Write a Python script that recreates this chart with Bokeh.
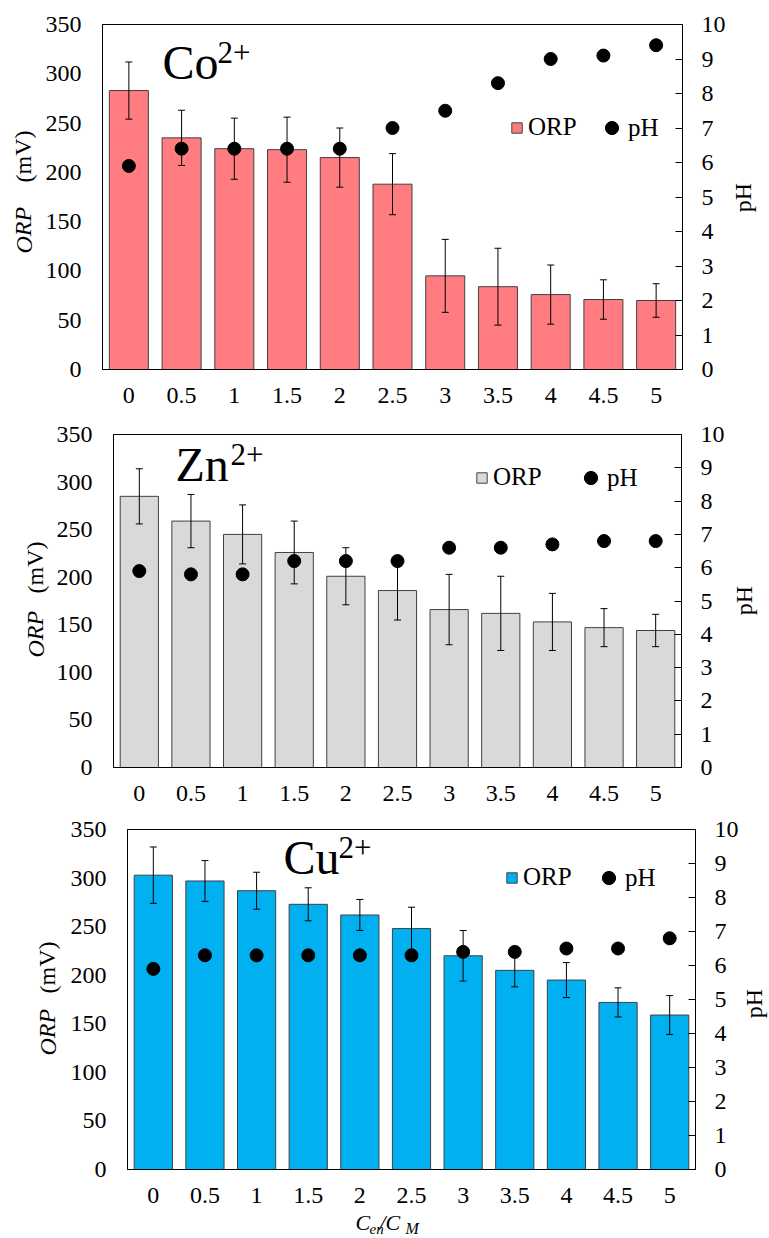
from bokeh.plotting import figure
from bokeh.models import (Range1d, LinearAxis, FactorRange, ColumnDataSource, Whisker,
                          TeeHead, Label, Legend, LegendItem, FixedTicker)
from bokeh.embed import file_html
from bokeh.resources import INLINE

# ---------------- data ----------------
categories = ["0", "0.5", "1", "1.5", "2", "2.5", "3", "3.5", "4", "4.5", "5"]
orp_ticks = [0, 50, 100, 150, 200, 250, 300, 350]
ph_ticks = [0, 1, 2, 3, 4, 5, 6, 7, 8, 9, 10]

co_orp = [283, 235, 224, 223, 215, 188, 95, 84, 76, 71, 70]
co_err = [29, 28, 31, 33, 30, 31, 37, 39, 30, 20, 17]
co_ph = [5.9, 6.4, 6.4, 6.4, 6.4, 7.0, 7.5, 8.3, 9.0, 9.1, 9.4]

zn_orp = [285, 259, 245, 226, 201, 186, 166, 162, 153, 147, 144]
zn_err = [29, 28, 31, 33, 30, 31, 37, 39, 30, 20, 17]
zn_ph = [5.9, 5.8, 5.8, 6.2, 6.2, 6.2, 6.6, 6.6, 6.7, 6.8, 6.8]

cu_orp = [303, 297, 287, 273, 262, 248, 220, 205, 195, 172, 159]
cu_err = [29, 21, 19, 17, 16, 22, 26, 17, 18, 15, 20]
cu_ph = [5.9, 6.3, 6.3, 6.3, 6.3, 6.3, 6.4, 6.4, 6.5, 6.5, 6.8]

FONT = "Liberation Serif"
W, H = 769, 1238


def panel(orp, err, ph, color, top, height, bl, br, bt, bb, leg_orp, leg_ph):
    p = figure(x_range=FactorRange(factors=categories, range_padding=0),
               y_range=Range1d(0, 350), width=W, height=height,
               output_backend="svg", toolbar_location=None,
               min_border_left=bl, min_border_right=br, min_border_top=bt, min_border_bottom=bb,
               styles={"position": "absolute", "top": f"{top}px", "left": "0px"})
    p.extra_y_ranges = {"ph": Range1d(0, 10)}
    p.xgrid.visible = False
    p.ygrid.visible = False
    p.outline_line_color = "black"
    p.outline_line_width = 1
    p.background_fill_color = "white"
    p.border_fill_alpha = 0

    src = ColumnDataSource(dict(x=categories, orp=orp, ph=ph,
                                upper=[o + e for o, e in zip(orp, err)],
                                lower=[o - e for o, e in zip(orp, err)]))
    bars = p.vbar(x="x", top="orp", width=0.74, source=src, fill_color=color,
                  line_color="#404040", line_width=1)
    wh = Whisker(base="x", upper="upper", lower="lower", source=src,
                 line_color="black", line_width=1, level="annotation",
                 upper_head=TeeHead(size=7, line_color="black", line_width=1),
                 lower_head=TeeHead(size=7, line_color="black", line_width=1))
    p.add_layout(wh)
    pts = p.scatter(x="x", y="ph", source=src, y_range_name="ph", size=13,
                    fill_color="black", line_color="black", level="overlay")

    ax = p.yaxis[0]
    ax.ticker = FixedTicker(ticks=orp_ticks)
    for a in (ax, p.xaxis[0]):
        a.major_tick_in = 0
        a.major_tick_out = 0
        a.minor_tick_line_color = None
        a.axis_line_color = "black"
        a.major_label_text_font = FONT
        a.major_label_text_font_size = "24px"
        a.major_label_text_color = "black"
    ax.major_label_standoff = 21
    p.xaxis[0].major_label_standoff = 18

    rax = LinearAxis(y_range_name="ph", ticker=FixedTicker(ticks=ph_ticks))
    rax.major_tick_in = 7
    rax.major_tick_out = 0
    rax.minor_tick_line_color = None
    rax.axis_line_color = "black"
    rax.major_tick_line_color = "black"
    rax.major_label_text_font = FONT
    rax.major_label_text_font_size = "24px"
    rax.major_label_text_color = "black"
    rax.major_label_standoff = 19
    p.add_layout(rax, "right")

    l1 = Legend(items=[LegendItem(label="ORP", renderers=[bars])], location=leg_orp,
                orientation="horizontal", glyph_width=13, glyph_height=13, label_standoff=5,
                padding=0, margin=0, border_line_color=None, background_fill_alpha=0,
                label_text_font=FONT, label_text_font_size="25px", label_text_color="black")
    l2 = Legend(items=[LegendItem(label="pH", renderers=[pts])], location=leg_ph,
                orientation="horizontal", glyph_width=33, glyph_height=33, label_standoff=-9,
                padding=0, margin=0, border_line_color=None, background_fill_alpha=0,
                label_text_font=FONT, label_text_font_size="25px", label_text_color="black")
    p.add_layout(l1)
    p.add_layout(l2)
    return p


p1 = panel(co_orp, co_err, co_ph, "#FF7C80", 0, 430, 102, 87, 24, 61, (408, 228), (493, 225))
p2 = panel(zn_orp, zn_err, zn_ph, "#D9D9D9", 410, 420, 113, 88, 24, 63, (362, 276), (461, 273))
p3 = panel(cu_orp, cu_err, cu_ph, "#00B0F0", 808, 430, 127, 74, 21, 69, (378, 278), (465, 275))

# ---------- overlay with texts that sit outside the plot frames ----------
ov = figure(x_range=Range1d(0, W), y_range=Range1d(0, H), width=W, height=H,
            x_axis_type=None, y_axis_type=None, output_backend="svg", toolbar_location=None,
            min_border=0, styles={"position": "absolute", "top": "0px", "left": "0px"})
ov.outline_line_color = None
ov.background_fill_alpha = 0
ov.border_fill_alpha = 0
ov.xgrid.visible = False
ov.ygrid.visible = False


def lab(text, x, y, size, italic=False, angle=0.0, align="left", baseline="alphabetic"):
    ov.add_layout(Label(x=x, y=H - y, x_units="screen", y_units="screen", text=text,
                        angle=angle, text_font=FONT, text_font_size=size,
                        text_font_style="italic" if italic else "normal",
                        text_align=align, text_baseline=baseline, text_color="black"))


# ion names with superscript charge
for name, x, y in [("Co", 162, 62), ("Zn", 175, 464), ("Cu", 283, 857)]:
    lab(name, x, y, "48px")
    lab("2+", x + 55, y - 10, "31px")

# left axis titles: italic ORP + (mV)
for cx, y_orp, y_mv in [(23, 253, 182), (35, 657, 593), (47, 1055, 993)]:
    lab("ORP", cx, y_orp, "24px", italic=True, angle=1.5708, baseline="middle")
    lab("(mV)", cx, y_mv, "24px", angle=1.5708, baseline="middle")

# right axis titles
for x, y in [(742, 197), (743, 600), (753, 1003)]:
    lab("pH", x, y, "24px", angle=1.5708, align="center", baseline="middle")

# x-axis title C_en / C_M
lab("C", 355, 1222, "22px", italic=True)
lab("en", 369, 1228, "15px", italic=True)
lab("/C", 379, 1222, "22px", italic=True)
lab("M", 405, 1228, "16px", italic=True)

open("out.html", "w").write(file_html([p1, p2, p3, ov], INLINE))
